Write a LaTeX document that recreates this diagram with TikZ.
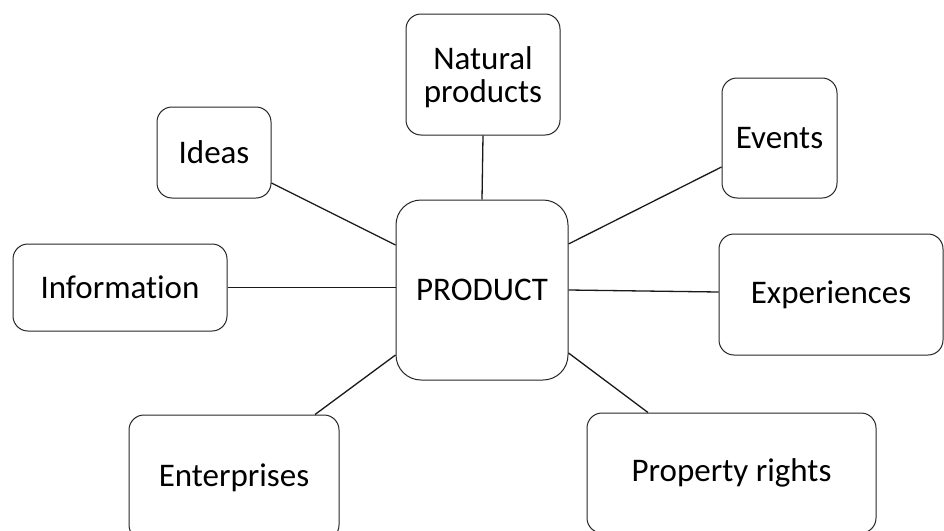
\documentclass[tikz,border=0pt]{standalone}
\usepackage{fontspec}
\setmainfont[Ligatures={NoCommon}]{Carlito}
\usetikzlibrary{calc}
\begin{document}
\begin{tikzpicture}[x=1pt,y=-1pt,
  box/.style={draw=black!85, line width=1pt, rounded corners=15pt, align=center,
    inner sep=0pt, font=\fontsize{33}{33}\selectfont, text=black},
  link/.style={draw=black!90, line width=1.3pt}]
\useasboundingbox[fill=white] (0,0) rectangle (944,530);
\clip (0,0) rectangle (944,530);
\node[box, minimum width=172pt, minimum height=180pt, rounded corners=25pt] (prod) at (482,290) {PRODUCT};
\node[box, minimum width=154pt, minimum height=121pt, text depth=0pt] (nat) at (483,74.5) {Natural\\products};
\node[box, minimum width=114pt, minimum height=91pt] (ideas) at (214,152.5) {Ideas};
\node[box, minimum width=115pt, minimum height=120pt] (events) at (779.5,138) {Events};
\node[box, minimum width=214pt, minimum height=87pt] (info) at (120,287.5) {Information};
\node[box, minimum width=224pt, minimum height=121pt] (exp) at (831,294.5) {Experiences};
\node[box, minimum width=210pt, minimum height=125pt] (ent) at (234,477.5) {Enterprises};
\node[box, minimum width=289pt, minimum height=120pt] (prop) at (731.5,473) {Property rights};
\draw[link] (nat.south) -- (prod.north);
\draw[link] ([yshift=-30.5pt]ideas.east) -- ([yshift=45pt]prod.west);
\draw[link] ([yshift=-29pt]events.west) -- ([yshift=46pt]prod.east);
\draw[link] (info.east) -- (info.east -| prod.west);
\draw[link] ([yshift=2.5pt]exp.west) -- (prod.east);
\draw[link] ([xshift=81pt]ent.north) -- ([yshift=-65pt]prod.west);
\draw[link] ([xshift=-83.5pt]prop.north) -- ([yshift=-63pt]prod.east);
\end{tikzpicture}
\end{document}
